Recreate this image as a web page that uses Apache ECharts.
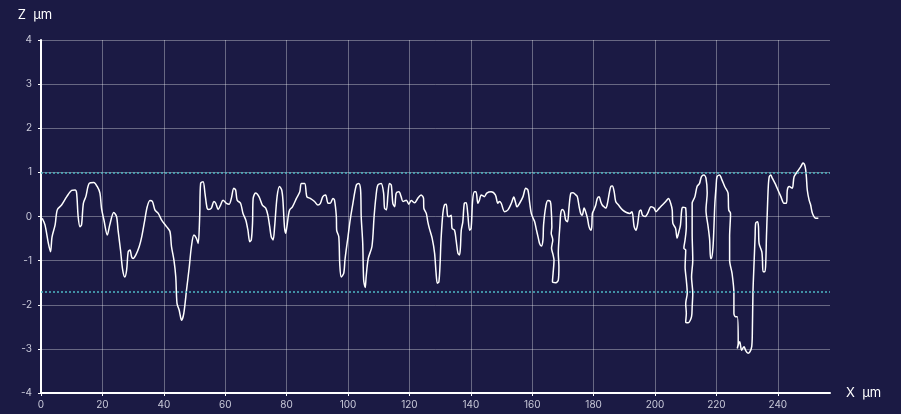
<!DOCTYPE html>
<html><head><meta charset="utf-8">
<script src="https://cdn.jsdelivr.net/npm/echarts@6/dist/echarts.min.js"></script>
<style>html,body{margin:0;padding:0;background:#1b1a44;}#c{width:901px;height:414px;}</style>
</head><body><div id="c"></div>
<script>
const xTicks = [0,20,40,60,80,100,120,140,160,180,200,220,240];
const yTicks = [-4,-3,-2,-1,0,1,2,3,4];
const upperLimit = 1.0;
const lowerLimit = -1.7;
const profileX = [
0.4,1.3,2.4,3.1,3.6,4.6,5.3,6.7,8.4,10,11.1,11.6,12.1,12.7,13.2,13.8,14.6,15.7,17.2,18.3,19.2,19.7,20.5,21.6,22.4,23.7,24.6,25.1,25.9,26.6,27.3,27.9,28.4,29,29.5,30,30.9,32,32.8,33.8,34.6,35.5,36.3,37.1,38.2,39.3,40.9,42,42.5,43.3,43.9,44.3,45,45.8,46.5,47.4,48.3,49,49.8,50.6,51.2,51.7,52,52.8,53.4,54.1,
54.6,55.5,56.3,56.9,57.7,58.5,59.3,60.4,61.3,62,62.8,63.4,63.9,65,65.8,66.7,67.4,68,68.5,68.9,69.1,69.9,71,72.1,73.2,73.9,74.5,75,75.6,76.1,76.9,77.7,78.4,78.8,79.3,79.7,80.1,80.6,81,81.9,83.2,84.3,84.8,85.9,86.6,87.7,89.1,90.2,91,91.8,92.7,93.5,94.2,95.1,95.6,96.2,96.3,97,97.3,97.8,98.6,99,99.4,100,100.7,101.6,102.7,103.5,104.1,104.3,104.8,105.1,105.6,105.9,106.6,107.8,108.5,109.1,109.7,110.8,
111.6,111.9,112.5,113,113.5,114.1,114.6,115.2,115.7,116.6,117.3,117.9,119,119.8,120.6,121.7,122.7,123.8,124.6,124.7,125.5,126,126.5,127.4,128.2,128.7,129.1,129.6,130,130.3,130.9,131.4,132,132.5,133,133.6,133.9,134.7,135.2,135.8,136.3,136.6,136.9,137.4,137.9,138.5,139,139.6,140.1,140.6,141.2,141.7,142.3,142.8,143.4,144.4,145.2,146.6,148,148.8,
149.3,149.9,151,152.1,153.2,154,154.6,155,155.9,157,157.9,158.6,159.2,159.7,160.3,160.8,161.4,161.9,162.4,163,163.5,163.7,164.4,165.1,165.9,166.2,166.4,166.2,166.7,166.3,166.8,167.1,166.8,166.6,167.7,168.5,168.7,168.5,168.7,169,169.3,169.8,170.4,170.9,171.5,172,172.6,173.3,174.2,174.7,175.3,175.8,176.3,176.9,177.4,178,178.5,179.1,179.4,179.6,180.1,180.7,181.2,181.8,182.3,182.8,183.4,183.9,184.4,185.1,185.6,186.1,186.7,187.2,188.1,
189.4,190.7,191.8,192.5,193.2,193.8,194.3,194.9,195.4,195.9,196.8,197.6,198.7,199.7,200.3,201.4,202.4,203.5,204.4,
205.1,205.6,205.8,206.7,207.2,207.8,208.3,208.7,209.1,210,210.2,209.8,209.4,210,209.8,210.2,210.5,210,210.2,210,210.8,211.9,212.1,212.3,211.9,212.3,212.1,212.1,213,213.7,214.5,215.1,215.9,216.6,217,216.6,217.3,217.8,218.1,218.4,218.9,219.2,219.5,219.9,220.2,221,221.8,222.7,223.8,224,224.6,224.3,224.3,225.1,225.7,225.7,226.2,226.8,227.1,226.8,227.6,228.2,229,229.5,230.3,230.9,231.5,231.7,231.9,232.3,232.6,232.8,233.4,233.7,233.9,234.8,235,235.2,235.8,236.1,236.3,236.6,236.9,237.2,237.7,238.2,239.1,239.8,
241,242,242.8,243.1,243.7,244.7,245.3,246.4,247.5,248.2,248.9,249.3,249.6,250.2,250.7,251.3,252.4,253.2
];
const profileZ = [
-0.04,-0.19,-0.61,-0.8,-0.46,-0.19,0.15,0.26,0.45,0.59,0.6,0.53,0,-0.23,-0.19,0.3,0.45,0.75,0.77,0.68,0.53,0.19,-0.08,-0.42,-0.19,0.09,0,-0.31,-0.76,-1.21,-1.37,-1.21,-0.8,-0.76,-0.91,-0.95,-0.87,-0.68,-0.46,-0.08,0.22,0.36,0.34,0.15,0.07,-0.08,-0.23,-0.34,-0.68,-0.99,-1.37,-1.97,-2.12,-2.35,-2.2,-1.67,-1.14,-0.68,-0.42,-0.49,-0.61,0.03,0.75,0.79,0.53,0.19,
0.16,0.19,0.34,0.3,0.16,0.26,0.37,0.3,0.28,0.41,0.64,0.6,0.37,0.3,0.07,-0.08,-0.31,-0.57,-0.53,-0.15,0.41,0.53,0.45,0.26,0.19,0.03,-0.23,-0.46,-0.53,-0.23,0.45,0.68,0.6,0.37,-0.23,-0.38,-0.23,0.03,0.15,0.22,0.41,0.56,0.75,0.75,0.45,0.41,0.34,0.26,0.3,0.45,0.49,0.3,0.3,0.41,0.37,0,-0.31,-0.46,-1.06,-1.37,-1.29,-0.99,-0.76,-0.46,-0.08,0.3,0.71,0.75,0.6,0,-0.61,-1.44,-1.61,-1.37,-0.95,-0.68,0,0.45,0.71,0.75,
0.53,0.19,0.15,0.49,0.75,0.71,0.3,0.22,0.53,0.56,0.45,0.34,0.37,0.28,0.36,0.31,0.41,0.49,0.41,0.19,0.07,-0.12,-0.27,-0.49,-0.83,-1.29,-1.51,-1.48,-1.06,-0.53,0.07,0.26,0.28,0,0,0.03,-0.27,-0.31,-0.53,-0.83,-0.87,-0.72,-0.31,-0.12,0.3,0.31,0.07,-0.31,-0.27,0.37,0.56,0.56,0.3,0.37,0.49,0.45,0.53,0.56,0.49,0.3,
0.34,0.3,0.11,0.15,0.3,0.44,0.31,0.22,0.3,0.45,0.64,0.6,0.3,0.07,-0.04,-0.12,-0.31,-0.46,-0.61,-0.67,-0.53,-0.19,0.22,0.36,0.34,0.15,-0.23,-0.38,-0.53,-0.72,-0.87,-0.99,-1.29,-1.48,-1.5,-1.44,-1.14,-0.83,-0.53,-0.23,0.07,0.16,0.11,-0.08,-0.12,0.22,0.53,0.54,0.49,0.45,0.22,0.07,0.03,0.19,0.11,-0.04,-0.23,-0.31,-0.23,0.07,0.15,0.26,0.41,0.45,0.34,0.26,0.22,0.19,0.26,0.53,0.68,0.69,0.56,0.34,0.26,
0.15,0.09,0.07,0.11,-0.23,-0.31,-0.19,0.11,0.15,0.03,0,0.07,0.22,0.19,0.11,0.19,0.26,0.34,0.41,
0.3,0.15,-0.15,-0.27,-0.49,-0.34,-0.19,0.15,0.21,0.19,-0.23,-0.53,-0.72,-0.76,-1.14,-1.44,-1.74,-1.97,-2.2,-2.39,-2.41,-2.27,-2.05,-1.74,-1.37,-0.99,-0.38,0.3,0.45,0.68,0.75,0.9,0.94,0.87,0.53,0.15,-0.23,-0.53,-0.95,-0.95,-0.68,-0.23,0.3,0.68,0.9,0.94,0.83,0.68,0.53,0.15,0.07,-0.46,-0.99,-1.29,-1.74,-2.2,-2.27,-2.27,-2.88,-2.99,-2.84,-3.03,-2.95,-3.03,-3.1,-3.07,-2.95,-2.65,-1.74,-0.99,-0.46,-0.15,-0.12,-0.23,-0.61,-0.8,-0.99,-1.25,-1.25,-0.99,-0.46,0.15,0.68,0.9,0.94,0.87,0.75,0.64,
0.45,0.3,0.3,0.6,0.68,0.64,0.9,1.02,1.13,1.21,1.13,0.9,0.6,0.37,0.26,0.07,-0.04,-0.04
];
const profile = profileX.map((x,i)=>[x, profileZ[i]]);

const chart = echarts.init(document.getElementById('c'));
const labelColor = '#c9c9d9';
const gridColor = 'rgba(255,255,255,0.34)';
chart.setOption({
  backgroundColor: '#1b1a44',
  animation: false,
  textStyle: {fontFamily: 'Inter, "Noto Sans", sans-serif'},
  grid: {left: 41, right: 71, top: 40, bottom: 21, containLabel: false},
  xAxis: {
    type: 'value', min: xTicks[0], max: 257, interval: 20,
    name: 'X  μm', nameLocation: 'end', nameGap: 16,
    nameTextStyle: {color: '#ffffff', fontSize: 13, verticalAlign: 'middle'},
    axisLine: {show: true, onZero: false, lineStyle: {color: '#ffffff', width: 2}},
    axisTick: {show: true, length: 3, lineStyle: {color: '#ffffff'}},
    axisLabel: {color: labelColor, fontSize: 10, margin: 7, showMaxLabel: false},
    splitLine: {show: true, showMaxLine: false, showMinLine: false, lineStyle: {color: gridColor, width: 1}}
  },
  yAxis: {
    type: 'value', min: yTicks[0], max: yTicks[yTicks.length-1], interval: 1,
    name: 'Z  μm', nameLocation: 'end', nameGap: 18,
    nameTextStyle: {color: '#ffffff', fontSize: 13, padding: [0, 12, 0, 0]},
    axisLine: {show: true, onZero: false, lineStyle: {color: '#ffffff', width: 2}},
    axisTick: {show: true, length: 3, lineStyle: {color: '#ffffff'}},
    axisLabel: {color: labelColor, fontSize: 10, margin: 9},
    splitLine: {show: true, showMinLine: false, lineStyle: {color: gridColor, width: 1}}
  },
  series: [{
    type: 'line', data: profile, showSymbol: false, smooth: 0.3,
    lineStyle: {color: '#ffffff', width: 1.5},
    markLine: {
      silent: true, symbol: 'none', label: {show: false},
      lineStyle: {color: '#4fb8c4', width: 1.5, type: [2, 2]},
      data: [{yAxis: upperLimit}, {yAxis: lowerLimit}]
    }
  }]
});
</script></body></html>
